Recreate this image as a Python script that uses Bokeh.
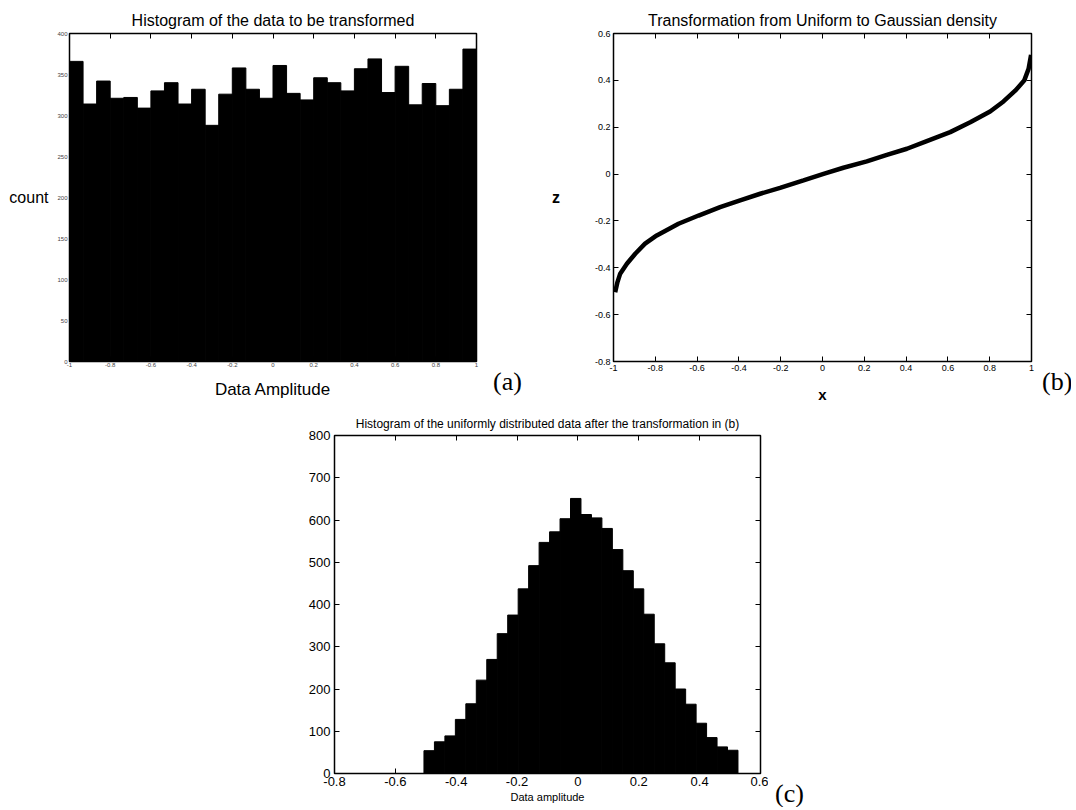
import numpy as np
from bokeh.plotting import figure
from bokeh.models import LinearAxis, Spacer, FixedTicker, CustomJSTickFormatter, Div
from bokeh.layouts import column, row
from bokeh.embed import file_html
from bokeh.resources import INLINE

# ---------------- data ----------------
# Panel (a): histogram of uniform data, 30 bins over [-1, 1]
a_counts = [366, 314, 342, 321, 322, 309, 330, 340, 314, 332,
            288, 326, 358, 332, 321, 361, 327, 319, 346, 340,
            330, 357, 369, 328, 360, 313, 339, 312, 332, 381]
a_bin_range = (-1.0, 1.0)
a_xticks = [-1, -0.8, -0.6, -0.4, -0.2, 0, 0.2, 0.4, 0.6, 0.8, 1]
a_yticks = [0, 50, 100, 150, 200, 250, 300, 350, 400]

# Panel (b): transformation curve x -> z
b_x = [-0.992, -0.981, -0.968, -0.936, -0.896, -0.849, -0.793, -0.689, -0.593,
       -0.490, -0.394, -0.298, -0.203, -0.091, 0.005, 0.100, 0.212, 0.308,
       0.404, 0.499, 0.611, 0.707, 0.802, 0.866, 0.922, 0.965, 0.986, 0.998]
b_z = [-0.504, -0.461, -0.425, -0.383, -0.340, -0.297, -0.262, -0.212, -0.177,
       -0.141, -0.112, -0.084, -0.059, -0.027, 0.001, 0.027, 0.054, 0.082,
       0.108, 0.141, 0.179, 0.221, 0.267, 0.310, 0.356, 0.399, 0.449, 0.509]
b_xticks = [-1, -0.8, -0.6, -0.4, -0.2, 0, 0.2, 0.4, 0.6, 0.8, 1]
b_yticks = [-0.8, -0.6, -0.4, -0.2, 0, 0.2, 0.4, 0.6]

# Panel (c): histogram after transformation, 30 bins
c_counts = [54, 75, 89, 128, 165, 221, 270, 331, 375, 437,
            492, 547, 572, 603, 651, 613, 605, 580, 530, 480,
            437, 377, 307, 262, 200, 164, 119, 85, 63, 55]
c_bin_range = (-0.506, 0.526)
c_xticks = [-0.8, -0.6, -0.4, -0.2, 0, 0.2, 0.4, 0.6]
c_yticks = [0, 100, 200, 300, 400, 500, 600, 700, 800]

panel_tags = ["(a)", "(b)", "(c)"]

SANS = "Liberation Sans"
SERIF = "Liberation Serif"
fmt = CustomJSTickFormatter(code="return String(Math.round(tick*10)/10);")


def style(p, xticks, yticks, tick_size, tick_color="black"):
    p.xgrid.visible = False
    p.ygrid.visible = False
    p.outline_line_color = "black"
    p.outline_line_width = 1.5
    p.background_fill_color = "white"
    p.border_fill_color = "white"
    for ax, ticks in ((p.below[0], xticks), (p.left[0], yticks)):
        ax.ticker = FixedTicker(ticks=ticks)
        ax.formatter = fmt
        ax.major_tick_in = 5
        ax.major_tick_out = 0
        ax.major_tick_line_color = "black"
        ax.minor_tick_line_color = None
        ax.axis_line_color = "black"
        ax.major_label_text_font = SANS
        ax.major_label_text_font_size = tick_size
        ax.major_label_text_color = tick_color
        ax.axis_label_text_font = SANS
        ax.axis_label_text_font_style = "normal"
        ax.axis_label_text_color = "black"
    top = LinearAxis(ticker=FixedTicker(ticks=xticks), major_label_text_font_size="1px",
                     major_label_text_color=None,
                     major_tick_in=5, major_tick_out=0, minor_tick_line_color=None,
                     major_label_standoff=0, axis_line_color=None)
    right = LinearAxis(ticker=FixedTicker(ticks=yticks), major_label_text_font_size="1px",
                       major_label_text_color=None,
                       major_tick_in=5, major_tick_out=0, minor_tick_line_color=None,
                       major_label_standoff=0, axis_line_color=None)
    p.add_layout(top, "above")
    p.add_layout(right, "right")
    p.title.text_font = SANS
    p.title.text_font_style = "normal"
    p.title.align = "center"
    p.title.text_color = "black"


def tag_div(text, width, height, pad_top, pad_left):
    html = ('<div style="font-family:\'Liberation Serif\',serif;font-size:26px;'
            'line-height:26px;color:black;white-space:nowrap;'
            'padding-top:%dpx;padding-left:%dpx;">%s</div>' % (pad_top, pad_left, text))
    return Div(text=html, width=width, height=height, margin=0,
               styles={"overflow": "hidden"})


# ---------------- panel (a) ----------------
fa = figure(frame_width=407, frame_height=328, x_range=(-1, 1), y_range=(0, 400),
            min_border_left=58, min_border_right=8, min_border_top=33, min_border_bottom=40,
            title="Histogram of the data to be transformed",
            output_backend="svg", toolbar_location=None)
style(fa, a_xticks, a_yticks, "6px", "#444444")
a_edges = np.linspace(a_bin_range[0], a_bin_range[1], len(a_counts) + 1)
fa.quad(left=a_edges[:-1], right=a_edges[1:], bottom=0, top=a_counts,
        fill_color="black", line_color="black")
fa.title.text_font_size = "16px"
fa.title.standoff = 9
ax_a = fa.below[0]
ax_a.axis_label = "Data Amplitude"
ax_a.axis_label_text_font_size = "17px"
ax_a.axis_label_standoff = 10
ax_a.major_label_standoff = 1
ay_a = fa.left[0]
ay_a.axis_label = "count"
ay_a.axis_label_text_font_size = "16px"
ay_a.axis_label_orientation = "horizontal"
ay_a.axis_label_standoff = 6
ay_a.major_label_standoff = 2

# ---------------- panel (b) ----------------
fb = figure(frame_width=418, frame_height=328, x_range=(-1, 1), y_range=(-0.8, 0.6),
            min_border_left=70, min_border_right=8, min_border_top=33, min_border_bottom=40,
            title="Transformation from Uniform to Gaussian density",
            output_backend="svg", toolbar_location=None)
style(fb, b_xticks, b_yticks, "9px")
fb.line(b_x, b_z, line_width=4.5, line_color="black")
fb.title.text_font_size = "16px"
fb.title.standoff = 9
ax_b = fb.below[0]
ax_b.axis_label = "x"
ax_b.axis_label_text_font_size = "15px"
ax_b.axis_label_text_font_style = "bold"
ax_b.axis_label_standoff = 12
ax_b.major_label_standoff = 3
ay_b = fb.left[0]
ay_b.axis_label = "z"
ay_b.axis_label_text_font_size = "16px"
ay_b.axis_label_text_font_style = "bold"
ay_b.axis_label_orientation = "horizontal"
ay_b.axis_label_standoff = 32
ay_b.major_label_standoff = 3

# ---------------- panel (c) ----------------
fc = figure(frame_width=426, frame_height=338, x_range=(-0.8, 0.6), y_range=(0, 800),
            min_border_left=46, min_border_right=8, min_border_top=30, min_border_bottom=34,
            title="Histogram of the uniformly distributed data after the transformation in (b)",
            output_backend="svg", toolbar_location=None)
style(fc, c_xticks, c_yticks, "13px")
c_edges = np.linspace(c_bin_range[0], c_bin_range[1], len(c_counts) + 1)
fc.quad(left=c_edges[:-1], right=c_edges[1:], bottom=0, top=c_counts,
        fill_color="black", line_color="black")
fc.title.text_font_size = "12px"
fc.title.standoff = 10
ax_c = fc.below[0]
ax_c.axis_label = "Data amplitude"
ax_c.axis_label_text_font_size = "11px"
ax_c.axis_label_standoff = 2
ax_c.major_label_standoff = 3
fc.left[0].major_label_standoff = 4

div_a = tag_div(panel_tags[0], 59, 401, 369, 9)
div_b = tag_div(panel_tags[1], 32, 401, 369, 3)
div_c = tag_div(panel_tags[2], 40, 402, 376, 7)

layout = column(
    row(Spacer(width=6, height=10), fa, div_a, fb, div_b),
    row(Spacer(width=288, height=10), fc, div_c),
)

open("out.html", "w").write(file_html(layout, INLINE))
